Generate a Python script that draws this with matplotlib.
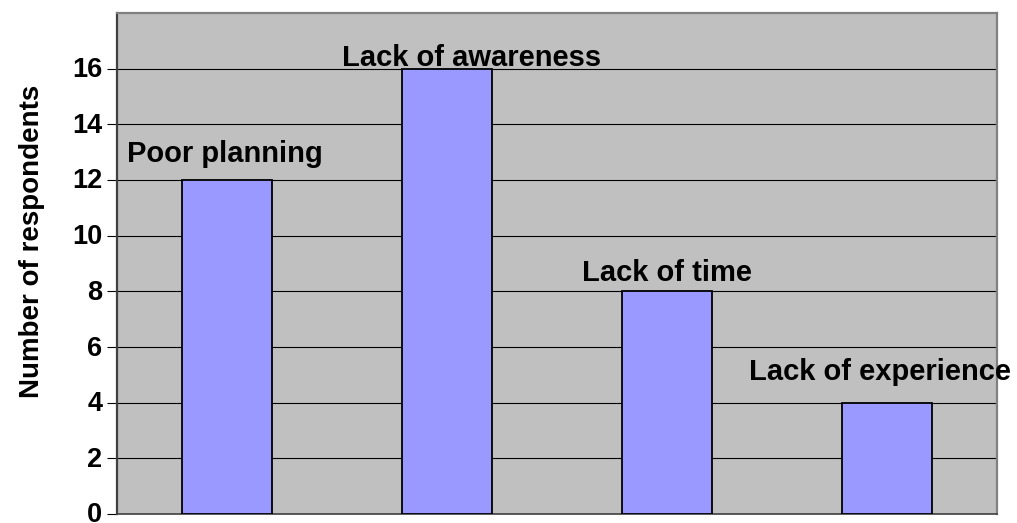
import matplotlib
matplotlib.use('Agg')
from matplotlib import pyplot as plt
from matplotlib import transforms

# survey results: reasons given by respondents
reasons = ['Poor planning', 'Lack of awareness', 'Lack of time', 'Lack of experience']
respondents = [12, 16, 8, 4]
y_ticks = [0, 2, 4, 6, 8, 10, 12, 14, 16]

# label nudges (pixels) relative to the top centre of each bar
label_dx = [-2, 25, 0, -7]
label_dy = [18, 3, 10, 23]

plt.rcParams['font.family'] = ['Liberation Sans', 'DejaVu Sans']
plt.rcParams['font.weight'] = 'bold'

fig = plt.figure(figsize=(10.17, 5.23), dpi=100)
ax = fig.add_axes([117/1017, 9/523, 880/1017, 501/523])
ax.set_facecolor('#C0C0C0')

x = list(range(len(reasons)))
ax.bar(x, respondents, width=0.41, color='#9999FF', edgecolor='black',
       linewidth=1.3, zorder=3)

ax.set_xlim(-0.5, 3.5)
ax.set_ylim(0, 18)
ax.set_yticks(y_ticks)
ax.set_yticklabels([str(t) for t in y_ticks], fontsize=19.5, fontweight='bold')
ax.set_xticks([])
ax.tick_params(axis='y', direction='out', length=7.5, width=0.8, pad=3, color='black')
ax.yaxis.grid(True, color='black', linewidth=0.8, zorder=1)
ax.set_axisbelow(True)

# nudge tick numbers up a touch so the 0 stays on the canvas
shift = transforms.ScaledTranslation(0, 1.5/100, fig.dpi_scale_trans)
for lbl in ax.get_yticklabels():
    lbl.set_transform(lbl.get_transform() + shift)

ax.spines['left'].set_color('#404040')
ax.spines['left'].set_linewidth(1.6)
ax.spines['bottom'].set_color('#404040')
ax.spines['bottom'].set_linewidth(1.2)
for s in ['top', 'right']:
    ax.spines[s].set_color('#808080')
    ax.spines[s].set_linewidth(1.6)

ax.set_ylabel('Number of respondents', fontsize=20, fontweight='bold')
ax.yaxis.set_label_coords(-0.082, 0.544)

for i, (name, v) in enumerate(zip(reasons, respondents)):
    ax.annotate(name, xy=(i, v), xytext=(label_dx[i] * 0.72, label_dy[i] * 0.72),
                textcoords='offset points', ha='center', va='baseline',
                fontsize=21, fontweight='bold', annotation_clip=False, zorder=4)

fig.savefig('out.png', dpi=100)
